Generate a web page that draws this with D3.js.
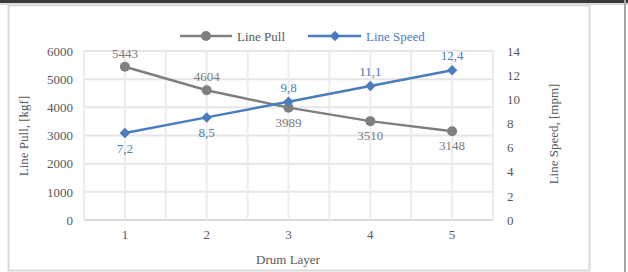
<!DOCTYPE html>
<html><head><meta charset="utf-8">
<script src="https://cdn.jsdelivr.net/npm/d3@7"></script>
<style>body{margin:0;background:#fff}svg{display:block}text{font-family:"Liberation Serif","Times New Roman",serif}</style>
</head><body>
<svg id="c" width="628" height="272"></svg>
<script>
const categories = [1, 2, 3, 4, 5];
const linePull = [5443, 4604, 3989, 3510, 3148];
const lineSpeed = [7.2, 8.5, 9.8, 11.1, 12.4];
const pullTicks = [0, 1000, 2000, 3000, 4000, 5000, 6000];
const speedTicks = [0, 2, 4, 6, 8, 10, 12, 14];
const pullLabelPos = ["above", "above", "below", "below", "below"];
const speedLabelPos = ["below", "below", "above", "above", "above"];

const svg = d3.select("#c");
const gray = "#7f7f7f", blue = "#4a7dbf";
// frame decorations
svg.append("rect").attr("x",0).attr("y",0).attr("width",628).attr("height",3).attr("fill","#3a3a3a");
svg.append("rect").attr("x",0).attr("y",3).attr("width",628).attr("height",2).attr("fill","#dcdcdc");
svg.append("rect").attr("x",624).attr("y",0).attr("width",2).attr("height",272).attr("fill","#a6a6a6");
svg.append("rect").attr("x",8.5).attr("y",5.5).attr("width",581).attr("height",265).attr("fill","#fff").attr("stroke","#d9d9d9").attr("stroke-width",2);

const L = 84, R = 493, T = 51, B = 220;
const x = d3.scaleBand().domain(categories).range([L, R]).padding(0);
const yL = d3.scaleLinear().domain([0, 6000]).range([B, T]);
const yR = d3.scaleLinear().domain([0, 14]).range([B, T]);
const cx = d => x(d) + x.bandwidth() / 2;

// gridlines
const g = svg.append("g");
pullTicks.forEach(t => g.append("line").attr("x1", L).attr("x2", R).attr("y1", yL(t)).attr("y2", yL(t)).attr("stroke", t === 0 ? "#d9d9d9" : "#e6e6e6").attr("stroke-width", 2));
const vx = [];
categories.forEach(c => { vx.push(x(c)); vx.push(cx(c)); });
vx.push(R);
vx.forEach(v => g.append("line").attr("x1", v).attr("x2", v).attr("y1", T).attr("y2", B).attr("stroke", "#ececec").attr("stroke-width", 2));

// axes
const axL = d3.axisLeft(yL).tickValues(pullTicks).tickFormat(d3.format("d")).tickSize(0).tickPadding(11);
const gl = svg.append("g").attr("transform", `translate(${L},0)`).call(axL);
const axR = d3.axisRight(yR).tickValues(speedTicks).tickSize(0).tickPadding(14);
const gr = svg.append("g").attr("transform", `translate(${R},0)`).call(axR);
const axB = d3.axisBottom(x).tickSize(0).tickPadding(10);
const gb = svg.append("g").attr("transform", `translate(0,${B})`).call(axB);
[gl, gr, gb].forEach(a => { a.attr("font-family", null); a.select(".domain").remove(); a.selectAll("text").attr("fill", "#595959").style("font-size", "13px").style("font-family", '"Liberation Serif",serif'); });

// titles
svg.append("text").attr("transform", "translate(28,136) rotate(-90)").attr("text-anchor", "middle").attr("fill", "#595959").style("font-size", "13px").text("Line Pull, [kgf]");
svg.append("text").attr("transform", "translate(558,134) rotate(-90)").attr("text-anchor", "middle").attr("fill", "#595959").style("font-size", "13px").text("Line Speed, [mpm]");
svg.append("text").attr("x", 288).attr("y", 264).attr("text-anchor", "middle").attr("fill", "#595959").style("font-size", "13px").text("Drum Layer");

// lines
const pullData = categories.map((c, i) => ({c, v: linePull[i], pos: pullLabelPos[i]}));
const speedData = categories.map((c, i) => ({c, v: lineSpeed[i], pos: speedLabelPos[i]}));
svg.append("path").datum(pullData).attr("fill", "none").attr("stroke", gray).attr("stroke-width", 2.5)
  .attr("d", d3.line().x(d => cx(d.c)).y(d => yL(d.v)));
svg.append("path").datum(speedData).attr("fill", "none").attr("stroke", blue).attr("stroke-width", 2.5)
  .attr("d", d3.line().x(d => cx(d.c)).y(d => yR(d.v)));
svg.selectAll(".pm").data(pullData).join("circle").attr("cx", d => cx(d.c)).attr("cy", d => yL(d.v)).attr("r", 5).attr("fill", gray);
const diamond = d3.symbol().type(d3.symbolDiamond2).size(70);
svg.selectAll(".sm").data(speedData).join("path").attr("d", diamond).attr("transform", d => `translate(${cx(d.c)},${yR(d.v)})`).attr("fill", blue);

// data labels
svg.selectAll(".pl").data(pullData).join("text").attr("x", d => cx(d.c)).attr("y", d => yL(d.v) + (d.pos === "above" ? -9 : 19))
  .attr("text-anchor", "middle").attr("fill", "#7a7a7a").style("font-size", "13px").text(d => d.v);
svg.selectAll(".sl").data(speedData).join("text").attr("x", d => cx(d.c)).attr("y", d => yR(d.v) + (d.pos === "above" ? -10 : 20))
  .attr("text-anchor", "middle").attr("fill", "#4a7dbf").style("font-size", "13px").text(d => d3.format(".1f")(d.v).replace(".", ","));

// legend
const lg = svg.append("g");
lg.append("line").attr("x1", 180).attr("x2", 232).attr("y1", 36).attr("y2", 36).attr("stroke", gray).attr("stroke-width", 2.5);
lg.append("circle").attr("cx", 206).attr("cy", 36).attr("r", 5).attr("fill", gray);
lg.append("text").attr("x", 237).attr("y", 40.5).attr("fill", "#595959").style("font-size", "13px").text("Line Pull");
lg.append("line").attr("x1", 308).attr("x2", 361).attr("y1", 36).attr("y2", 36).attr("stroke", blue).attr("stroke-width", 2.5);
lg.append("path").attr("d", diamond).attr("transform", "translate(335,36)").attr("fill", blue);
lg.append("text").attr("x", 366).attr("y", 40.5).attr("fill", blue).style("font-size", "13px").text("Line Speed");
</script>
</body></html>
